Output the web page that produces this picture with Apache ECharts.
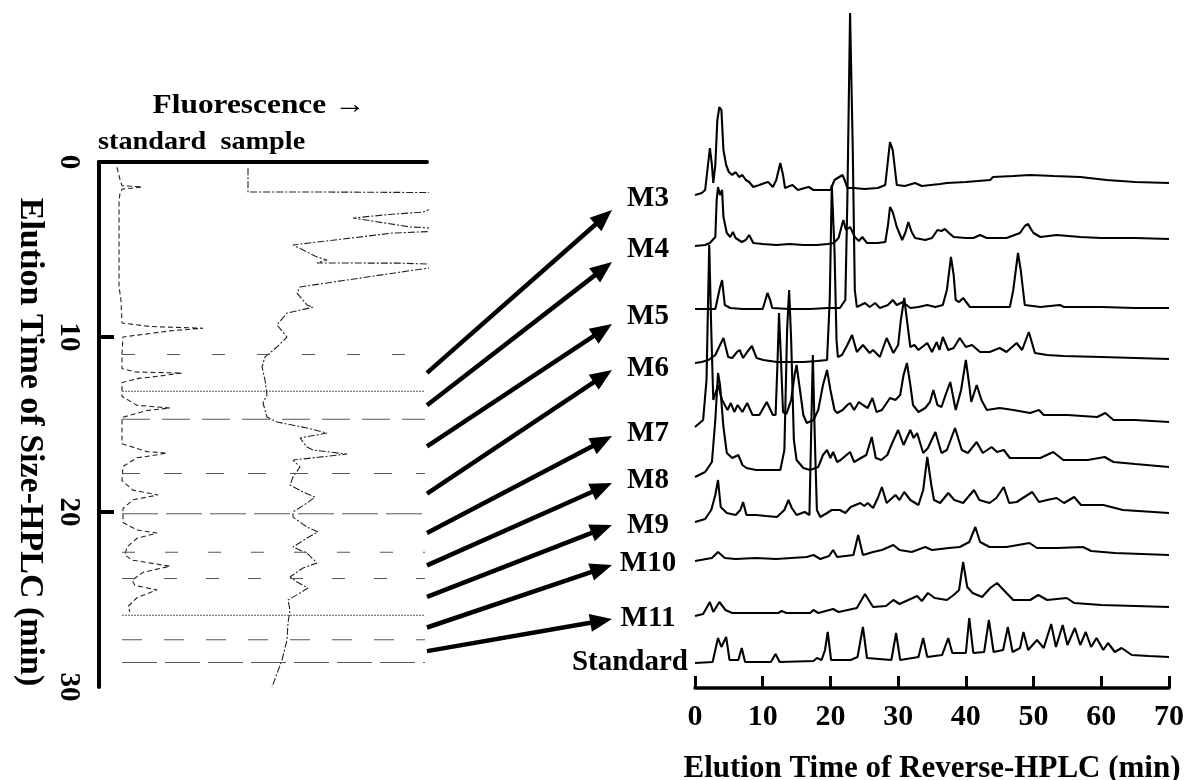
<!DOCTYPE html>
<html>
<head>
<meta charset="utf-8">
<script src="https://cdn.jsdelivr.net/npm/echarts@6/dist/echarts.min.js"></script>
<style>
  html, body { margin: 0; padding: 0; background: #fff; }
  #chart { width: 1186px; height: 780px; }
</style>
</head>
<body>
<div id="chart"></div>
<script>
const FONT = '"Liberation Serif", "Times New Roman", serif';

// ---- Size-exclusion HPLC: [fluorescence, elution time (min)] ----
const sizeStandard = [
  [18,0.3],[21,1.0],[23,1.35],[43,1.43],[23,1.55],[21,1.8],[20,2.2],[20,7.1],[22,7.9],[23,9.2],
  [51,9.4],[104,9.5],[71,9.65],[24,10.0],[23,10.9],[23,11.8],[36,12.0],[83,12.06],[51,12.3],[41,12.35],
  [23,12.6],[23,13.4],[38,13.9],[71,14.06],[48,14.2],[23,14.6],[23,16.1],[48,16.55],[68,16.63],[51,16.8],
  [38,16.9],[24,17.4],[23,18.2],[34,18.75],[59,19.03],[34,19.3],[24,19.8],[24,20.6],[38,21.03],[58,21.2],
  [38,21.5],[28,22.0],[26,22.45],[33,22.75],[71,23.1],[44,23.45],[33,23.9],[36,24.2],[58,24.45],[38,24.9],
  [29,25.4],[31,25.7]
];
const sizeSample = [
  [149,0.35],[149,1.71],[245,1.72],[340,1.75],[340,2.5],[324,2.86],[290,3.0],[254,3.2],[256,3.31],[311,3.71],
  [340,3.8],[340,3.95],[294,4.06],[194,4.74],[218,5.43],[228,5.6],[218,5.77],[301,5.78],[340,5.85],[340,6.0],
  [323,6.11],[201,7.14],[198,7.49],[208,8.17],[214,8.3],[188,8.63],[178,9.31],[188,10.0],[178,10.57],[166,11.14],
  [163,11.71],[166,12.46],[168,13.31],[164,13.77],[168,14.57],[178,14.86],[208,15.2],[228,15.49],[201,15.77],[208,16.29],
  [214,16.46],[248,16.69],[194,17.03],[201,17.43],[194,18.0],[191,18.46],[204,18.86],[216,19.14],[208,19.49],[194,20.0],
  [194,20.29],[208,20.86],[219,21.14],[208,21.49],[194,22.0],[208,22.35],[218,22.91],[204,23.2],[191,23.71],[198,24.0],
  [209,24.34],[201,24.63],[189,25.03],[191,25.6],[189,26.34],[188,27.31],[183,28.46],[173,30.0]
];
// fraction boundaries collected from the size column (min)
const fractionCuts = [11.0, 13.1, 14.7, 17.8, 20.1, 22.3, 23.8, 25.9, 27.3, 28.6];
const sizeTicks = [0, 10, 20, 30];

// ---- Reverse-phase HPLC traces: [elution time (min), signal] ----
const traceNames = ['M3', 'M4', 'M5', 'M6', 'M7', 'M8', 'M9', 'M10', 'M11', 'Standard'];
const rpM3 = [
  [0,0],[1.0,2],[1.5,5],[2.0,35],[2.2,47],[2.5,30],[2.7,12],[3.0,30],[3.3,75],[3.6,88],[3.9,85],[4.2,45],
  [4.6,30],[5.0,23],[5.5,20],[6.0,23],[6.5,18],[7.0,20],[7.5,15],[8.0,13],[8.6,8],[9.5,10],[10.3,12],[10.8,13],
  [11.5,8],[12.0,15],[12.6,32],[13.0,20],[13.3,7],[14.0,9],[14.4,10],[15.2,5],[16.2,7],[16.8,8],[17.5,5],[18.5,5],
  [20.0,5],[20.6,15],[21.3,18],[21.8,20],[22.2,13],[22.5,7],[23.5,7],[25,6],[27,7],[28.1,10],[28.5,35],[28.8,53],
  [29.2,45],[29.8,10],[31,9],[32.5,12],[33.5,9],[36.2,11],[37.2,12],[40,13],[43.6,15],[44,18],[47,19],[49.5,20],
  [53,19],[56.9,18],[60.8,15],[65,13],[70,12]
];
const rpM4 = [
  [0,1],[1.5,2],[2.2,4],[3.0,10],[3.2,47],[3.4,60],[3.7,52],[4.0,57],[4.2,30],[4.7,14],[5.2,10],[5.6,15],
  [6.0,9],[6.9,5],[7.5,7],[8.0,12],[8.6,4],[10,3],[12,2],[14,3],[16,2],[18,2],[19.6,3],[20.5,4],
  [21.2,9],[21.9,27],[22.3,17],[22.9,20],[23.6,10],[24.2,6],[24.7,10],[25.4,4],[27,4],[28.1,5],[28.5,22],[28.8,40],
  [29.2,35],[29.8,20],[30.6,7],[31.1,15],[31.5,25],[32.0,15],[32.5,9],[34.0,7],[35.0,9],[35.8,17],[36.4,16],[36.9,18],
  [37.5,14],[38.2,10],[40,9],[41.1,9],[42.1,12],[43.1,9],[46,9],[48.0,14],[48.7,21],[49.2,23],[49.6,18],[50,14],
  [51,10],[53.4,12],[56.9,10],[60,9],[65,9],[70,8]
];
const rpM5 = [
  [0,0],[3.0,0],[3.2,6],[3.6,19],[4.0,29],[4.4,4],[5.2,1],[7,0],[10,0],[10.4,9],[10.7,16],[11.1,9],
  [11.4,1],[14,0],[17,0],[19.6,1],[21.4,1],[22.2,9],[22.5,109],[22.9,296],[23.3,159],[23.6,19],[23.9,2],[25.1,6],
  [25.8,2],[26.6,6],[27.3,1],[28.5,4],[29.2,9],[29.8,4],[30.7,7],[31.8,1],[33.0,2],[34.3,4],[35.5,2],[36.6,4],
  [37.2,19],[37.8,52],[38.2,34],[38.5,9],[39.0,7],[39.6,11],[40.6,2],[43,2],[46.5,2],[47.0,19],[47.7,56],[48.1,39],
  [48.7,4],[51,2],[53.9,4],[54.5,2],[60,2],[65,1],[70,1]
];
const rpM6 = [
  [0,1],[1.0,2],[2.0,4],[3.0,9],[3.7,19],[4.2,26],[4.9,7],[5.5,6],[6.2,12],[6.6,14],[7.1,6],[7.7,12],
  [8.4,18],[9.1,6],[10.1,4],[12.1,2],[14,2],[16,2],[18,3],[19.5,4],[19.9,64],[20.2,179],[20.6,114],[20.9,24],
  [21.1,7],[21.7,9],[22.5,19],[23.2,29],[23.9,12],[24.8,19],[25.8,11],[26.3,14],[27.3,7],[28.3,26],[29.3,11],[30.0,19],
  [30.4,44],[30.9,66],[31.3,44],[31.8,17],[32.4,19],[33.0,14],[34.3,21],[35.0,12],[35.7,22],[36.1,14],[36.6,27],[37.4,14],
  [38.2,16],[39.1,26],[40.0,17],[40.9,19],[42.1,12],[43.5,12],[45.0,16],[46.0,12],[47.5,21],[48.3,14],[49.3,32],[50.2,11],
  [52,9],[54.4,8],[60,7],[65,6],[70,5]
];
const rpM7 = [
  [0,1],[1.2,8],[1.7,48],[2.1,183],[2.4,98],[2.7,28],[3.4,43],[4.0,28],[4.8,18],[5.3,25],[5.8,16],[6.3,23],
  [7.0,16],[7.7,25],[8.5,13],[9.5,13],[10.6,26],[11.5,13],[11.9,13],[12.2,68],[12.4,115],[12.7,68],[13.0,16],[13.5,14],
  [14.2,28],[14.7,53],[15.0,63],[15.4,43],[16.0,13],[16.5,5],[17.5,8],[18.2,18],[18.9,43],[19.5,58],[20.0,38],[20.6,18],
  [21.0,15],[21.8,18],[22.5,23],[22.9,25],[23.5,18],[24.2,26],[24.8,23],[25.5,20],[26.2,30],[26.8,16],[27.6,18],[28.8,30],
  [29.6,28],[30.3,33],[30.8,53],[31.3,65],[31.8,43],[32.2,23],[33.0,16],[34.0,20],[34.7,26],[35.2,38],[35.8,23],[36.4,21],
  [37.0,33],[37.7,46],[38.5,18],[39.3,38],[40.0,68],[40.5,43],[40.8,26],[41.6,43],[42.3,28],[43.1,18],[45,20],[47,18],
  [49.5,15],[50.8,18],[51.5,13],[55,13],[59.4,11],[60.6,15],[61.8,8],[65,8],[70,6]
];
const rpM8 = [
  [0,0],[1.5,5],[2.5,15],[3.0,57],[3.4,104],[3.7,92],[4.2,50],[4.7,24],[5.5,19],[6.4,22],[7.0,12],[7.6,9],
  [9,7],[11,7],[12.6,7],[13.2,27],[13.6,147],[13.9,187],[14.2,137],[14.6,37],[15.0,17],[16,9],[17,7],[18.2,10],
  [18.9,22],[19.5,27],[20.0,19],[20.4,25],[21.0,15],[21.5,17],[22.9,25],[23.5,15],[24.5,19],[25.3,22],[26.1,40],[26.7,19],
  [27.5,17],[28.4,22],[29.0,32],[30.0,47],[30.8,32],[31.8,47],[32.3,39],[32.8,44],[33.7,24],[34.4,29],[35.5,45],[36.4,24],
  [37.2,27],[38.4,49],[39.4,27],[40.3,24],[41.6,35],[42.5,24],[43.8,30],[44.6,25],[45.6,27],[46.5,19],[49,19],[51,19],
  [52.9,25],[54.4,17],[58,17],[60.5,20],[61.8,15],[65,13],[70,10]
];
const rpM9 = [
  [0,0],[1.5,3],[2.4,12],[3.0,27],[3.4,42],[3.8,15],[4.7,9],[6.0,7],[6.7,12],[7.1,20],[7.6,7],[9.0,7],
  [10.5,6],[12.1,5],[13.2,12],[13.8,22],[14.3,14],[15.0,7],[16.2,10],[16.9,7],[17.1,72],[17.4,167],[17.7,82],[18.0,12],
  [18.5,5],[19.5,9],[20.2,12],[21.4,12],[22.2,9],[23.0,15],[24.4,19],[25.0,16],[25.5,19],[26.3,14],[27.0,24],[27.6,35],
  [28.3,19],[29.6,27],[30.2,22],[30.9,30],[31.8,22],[33.0,17],[33.7,32],[34.3,65],[34.9,37],[35.3,22],[36.2,19],[37.4,29],
  [38.3,22],[39.6,19],[41.2,32],[42.0,22],[43.5,19],[44.5,24],[45.6,35],[46.4,19],[47.5,20],[49.8,30],[50.8,20],[52.0,22],
  [53.4,24],[54.5,19],[56.0,25],[57.0,17],[60.3,17],[63.2,12],[70,9]
];
const rpM10 = [
  [0,0],[2.5,3],[3.4,9],[4.4,3],[6,2],[9,3],[12,2],[16.5,4],[17.5,6],[18.5,2],[19.8,5],[20.4,11],
  [21.0,4],[23.4,6],[24.1,26],[24.8,6],[26.3,9],[27.6,11],[29.3,16],[30.2,11],[32.0,9],[34.0,14],[35,11],[37.5,13],
  [39.1,14],[40.5,19],[41.4,34],[42.1,19],[43.5,14],[46,14],[49.4,18],[50.5,13],[53.5,13],[57.3,14],[58.5,10],[62,8],
  [66,7],[70,6]
];
const rpM11 = [
  [0,0],[1.2,2],[2.2,14],[2.7,4],[3.6,14],[4.5,6],[5.5,3],[8,3],[12.3,3],[12.8,5],[13.5,3],[17.0,3],
  [17.5,6],[18.2,3],[20.4,7],[21.2,4],[23.9,8],[25.1,22],[26.3,9],[28.2,10],[29.3,16],[30.2,12],[32.8,20],[33.5,15],
  [34.4,23],[35.4,18],[37.2,16],[38.2,21],[39.0,26],[39.6,54],[40.2,29],[41.0,23],[42.4,19],[43.6,28],[44.6,33],[46.0,23],
  [47.0,16],[49.5,16],[50.7,21],[52.0,16],[54.9,18],[56.0,13],[60,11],[65,10],[70,9]
];
const rpStandard = [
  [0,0],[2.6,1],[3.4,25],[3.9,16],[4.6,26],[5.1,3],[6.4,3],[6.9,15],[7.4,1],[11.2,1],[11.9,9],[12.5,1],
  [17.5,2],[18.0,5],[18.7,3],[19.2,13],[19.6,31],[20.1,3],[23.0,3],[24.0,6],[24.8,36],[25.4,5],[29.0,3],[29.7,30],
  [30.3,3],[33.0,6],[33.7,25],[34.3,6],[36.5,8],[37.4,25],[38.0,10],[40.0,10],[40.5,45],[41.1,10],[42.7,11],[43.4,43],
  [44.1,11],[45.5,13],[46.2,36],[46.9,11],[48.0,15],[48.5,31],[49.2,13],[50.5,23],[51.5,15],[52.6,39],[53.3,16],[54.3,38],
  [55.0,18],[56.1,35],[56.9,18],[57.7,31],[58.5,16],[59.3,25],[60.3,13],[61.0,20],[62.0,11],[63.0,15],[64.5,8],[67,7],
  [70,6]
];
const rpTraces = [rpM3, rpM4, rpM5, rpM6, rpM7, rpM8, rpM9, rpM10, rpM11, rpStandard];
const rpTicks = [0, 10, 20, 30, 40, 50, 60, 70];

// ---- layout ----
const traceLift = [493, 441, 379, 324, 260, 211, 166, 127, 72, 25];   // stacking offset of each trace
const labelDrop = [4, 3, 8, 5, 6, 4, 4, 3, 3, 0];                      // label centre below trace start
const arrowTipDrop = [15, 15, 15, 6, 8, 6, 3, 4, 3];                   // arrow tip below trace start
const cutDash = [[13, 32], [2, 1], [28, 12], [18, 24], [36, 8], [13, 30], [13, 29], [2, 1], [20, 22], [35, 8]];
const SIZE_X_MAX = 328, RP_Y_MAX = 688;

const chart = echarts.init(document.getElementById('chart'));
const bold = (size) => ({ fontFamily: FONT, fontWeight: 'bold', fontSize: size, color: '#000' });

const series = [];
// size column chromatograms
series.push({
  type: 'line', xAxisIndex: 0, yAxisIndex: 0, data: sizeStandard, symbol: 'none', silent: true, clip: true,
  lineStyle: { color: '#222', width: 1.1, type: [5, 3] }
});
series.push({
  type: 'line', xAxisIndex: 0, yAxisIndex: 0, data: sizeSample, symbol: 'none', silent: true, clip: true,
  lineStyle: { color: '#222', width: 1.1, type: [7, 2, 2, 2] }
});
// fraction boundaries
fractionCuts.forEach((c, i) => {
  series.push({
    type: 'line', xAxisIndex: 0, yAxisIndex: 0, data: [[23, c], [326, c]], symbol: 'none', silent: true,
    lineStyle: { color: '#555', width: 1, type: cutDash[i] }
  });
});
// reverse-phase chromatograms
rpTraces.forEach((tr, i) => {
  series.push({
    type: 'line', name: traceNames[i], xAxisIndex: 1, yAxisIndex: 1, symbol: 'none', silent: true, clip: true,
    data: tr.map(([t, h]) => [t, h + traceLift[i]]),
    lineStyle: { color: '#000', width: 2.1 }
  });
});

chart.setOption({
  animation: false,
  backgroundColor: '#fff',
  grid: [
    { left: 99, top: 162, width: SIZE_X_MAX, height: 525, outerBoundsMode: 'none', containLabel: false },
    { left: 695, right: 17, top: 0, height: RP_Y_MAX, outerBoundsMode: 'none', containLabel: false }
  ],
  xAxis: [
    {
      gridIndex: 0, type: 'value', position: 'top', min: 0, max: SIZE_X_MAX,
      axisLine: { show: true, lineStyle: { color: '#000', width: 4 } },
      axisTick: { show: false }, axisLabel: { show: false }, splitLine: { show: false }
    },
    {
      gridIndex: 1, type: 'value', min: 0, max: 70, interval: 10,
      axisLine: { show: true, lineStyle: { color: '#000', width: 3.5 } },
      axisTick: { show: true, inside: true, length: 12, lineStyle: { color: '#000', width: 3 }, customValues: rpTicks },
      axisLabel: Object.assign({ margin: 14, customValues: rpTicks }, bold(30)),
      splitLine: { show: false },
      name: 'Elution Time of Reverse-HPLC (min)', nameLocation: 'middle', nameGap: 65,
      nameTextStyle: bold(31)
    }
  ],
  yAxis: [
    {
      gridIndex: 0, type: 'value', inverse: true, min: 0, max: 30,
      axisLine: { show: true, lineStyle: { color: '#000', width: 4 } },
      axisTick: { show: true, inside: true, length: 15, lineStyle: { color: '#000', width: 4 }, customValues: [10, 20] },
      axisLabel: Object.assign({ rotate: -90, margin: 16, customValues: sizeTicks }, bold(29)),
      splitLine: { show: false }
    },
    {
      gridIndex: 1, type: 'value', min: 0, max: RP_Y_MAX, show: false
    }
  ],
  series
});

// titles, trace labels and fraction arrows
function drawOverlay() {
  const g = [];
  g.push({ type: 'text', x: 259, y: 106, scaleX: 1.12, style: { text: 'Fluorescence \u2192', align: 'center', verticalAlign: 'middle', fill: '#000', font: 'bold 28px ' + FONT } });
  g.push({ type: 'text', x: 98, y: 143, scaleX: 1.13, style: { text: 'standard  sample', align: 'left', verticalAlign: 'middle', fill: '#000', font: 'bold 25px ' + FONT } });
  g.push({ type: 'text', x: 30, y: 442, rotation: -Math.PI / 2, style: { text: 'Elution Time of Size-HPLC (min)', align: 'center', verticalAlign: 'middle', fill: '#000', font: 'bold 34px ' + FONT } });

  traceNames.forEach((name, i) => {
    const p = chart.convertToPixel({ gridIndex: 1 }, [0, traceLift[i]]);
    const isStd = name === 'Standard';
    g.push({
      type: 'text', x: isStd ? 688 : 648, y: p[1] + labelDrop[i],
      style: { text: name, align: isStd ? 'right' : 'center', verticalAlign: 'middle', fill: '#000', font: 'bold 29px ' + FONT }
    });
    if (!isStd) {
      const mid = (fractionCuts[i] + fractionCuts[i + 1]) / 2;
      const tail = chart.convertToPixel({ gridIndex: 0 }, [SIZE_X_MAX, mid]);
      const tip = [612, p[1] + arrowTipDrop[i]];
      const dx = tip[0] - tail[0], dy = tip[1] - tail[1];
      const len = Math.hypot(dx, dy), ux = dx / len, uy = dy / len;
      const L = 22, W = 9;
      const bx = tip[0] - ux * L, by = tip[1] - uy * L;
      g.push({ type: 'line', shape: { x1: tail[0], y1: tail[1], x2: bx + ux * 3, y2: by + uy * 3 }, style: { stroke: '#000', lineWidth: 4.5 } });
      g.push({ type: 'polygon', shape: { points: [tip, [bx - uy * W, by + ux * W], [bx + uy * W, by - ux * W]] }, style: { fill: '#000' } });
    }
  });
  chart.setOption({ graphic: g });
}
drawOverlay();
</script>
</body>
</html>
